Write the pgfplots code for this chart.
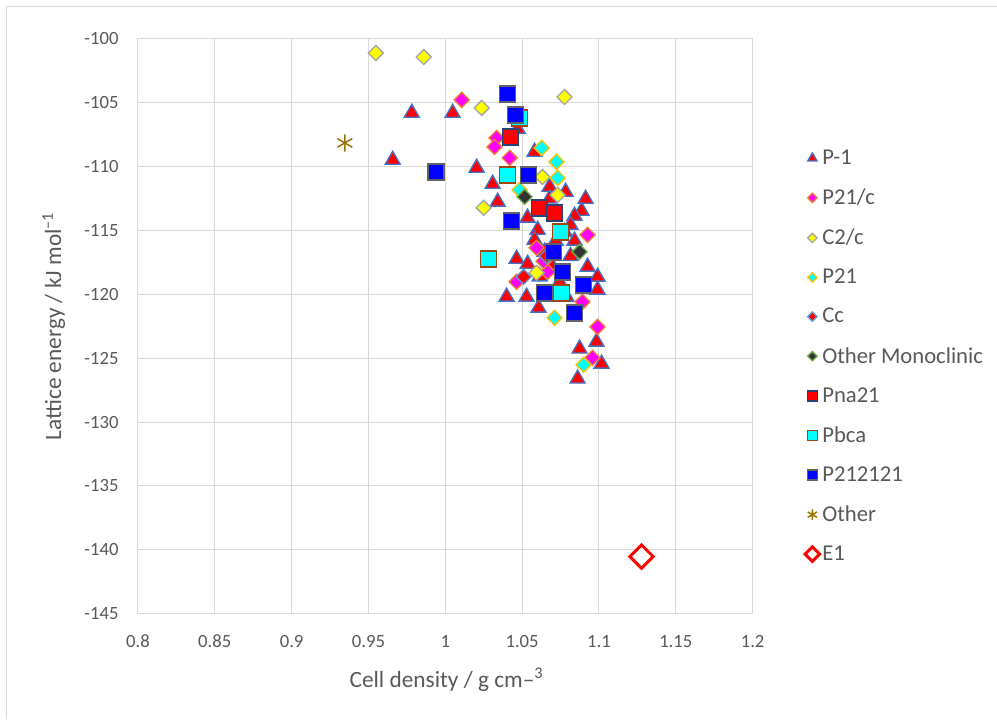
\documentclass[border=0pt]{standalone}
\usepackage{pgfplots}
\pgfplotsset{compat=1.18}
\usepackage{fontspec}
\setmainfont{Carlito}
\definecolor{txt}{HTML}{595959}
\definecolor{gridc}{HTML}{D9D9D9}
\definecolor{bP1}{HTML}{4472C4}
\definecolor{bP21c}{HTML}{ED7D31}
\definecolor{bC2c}{HTML}{A5A5A5}
\definecolor{bP21}{HTML}{FFC000}
\definecolor{bCc}{HTML}{5B9BD5}
\definecolor{bOM}{HTML}{70AD47}
\definecolor{fOM}{HTML}{333333}
\definecolor{bPna}{HTML}{264478}
\definecolor{bPbca}{HTML}{9E480E}
\definecolor{bP2}{HTML}{636363}
\definecolor{cOther}{HTML}{997300}
\definecolor{fRed}{HTML}{FF0000}
\definecolor{fMag}{HTML}{FF00FF}
\definecolor{fYel}{HTML}{FFFF00}
\definecolor{fCyan}{HTML}{00FFFF}
\definecolor{fBlue}{HTML}{0000FF}
\begin{document}
\begin{tikzpicture}
\path (0,0) rectangle (747.75pt,539.25pt);
\draw[gridc, line width=0.75pt] (5.25pt,0pt) -- (5.25pt,534pt) -- (747.75pt,534pt);
\begin{axis}[
  at={(103.5pt,78.75pt)}, anchor=south west,
  scale only axis, width=461.25pt, height=431.25pt,
  xmin=0.8, xmax=1.2, ymin=-145, ymax=-100,
  clip=false,
  axis line style={gridc, line width=0.75pt},
  xmajorgrids, ymajorgrids,
  grid style={gridc, line width=0.75pt},
  major tick length=0pt,
  xtick={0.8,0.85,0.9,0.95,1,1.05,1.1,1.15,1.2},
  xticklabels={0.8,0.85,0.9,0.95,1,1.05,1.1,1.15,1.2},
  ytick={-145,-140,-135,-130,-125,-120,-115,-110,-105,-100},
  yticklabels={-145,-140,-135,-130,-125,-120,-115,-110,-105,-100},
  /pgf/number format/assume math mode=true,
  ticklabel style={font=\fontsize{14}{16}\selectfont, text=txt},
  yticklabel style={xshift=-11pt},
  xticklabel style={yshift=-12.5pt},
  xlabel={Cell density / g cm–\textsuperscript{3}},
  ylabel={Lattice energy / kJ mol\textsuperscript{–1}},
  every axis x label/.style={at={(rel axis cs:0.502,-0.115)}, anchor=center, font=\fontsize{17.5}{20}\selectfont, text=txt},
  every axis y label/.style={at={(rel axis cs:-0.137,0.5)}, rotate=90, anchor=center, font=\fontsize{17.5}{20}\selectfont, text=txt},
  legend style={at={(rel axis cs:1.085,0.812)}, anchor=north west, draw=none, fill=none,
    font=\fontsize{17}{20}\selectfont, text=txt, row sep=12.8pt, inner sep=0pt},
  legend cell align=left,
  legend image post style={/tikz/every mark/.append style={scale=0.62}},
]
% P-1
\addplot[only marks, mark=triangle*, mark size=6.5pt, mark options={draw=bP1, fill=fRed, line width=1pt}] coordinates {
(0.9782,-105.79) (1.0048,-105.79) (0.9658,-109.47) (1.0204,-110.09) (1.0308,-111.35)
(1.0341,-112.75) (1.0471,-107.04) (1.0581,-108.84) (1.0913,-112.52) (1.0887,-113.46)
(1.0783,-111.97) (1.0679,-111.58) (1.0841,-113.85) (1.0815,-114.56) (1.0464,-117.22)
(1.0399,-120.19) (1.0529,-120.19) (1.0607,-121.05) (1.0536,-117.61) (1.0601,-114.95)
(1.0581,-115.73) (1.0646,-116.67) (1.0698,-117.84) (1.0744,-119.02) (1.0789,-120.19)
(1.0926,-117.84) (1.0991,-118.62) (1.0991,-119.64) (1.0874,-124.25) (1.0984,-123.71)
(1.1017,-125.43) (1.0861,-126.60) (1.0718,-115.80) (1.0841,-115.80) (1.0777,-115.10)
(1.0614,-118.60) (1.0679,-112.50) (1.0815,-117.00) (1.0535,-114.00)
};
\addlegendentry{P-1}
% P21/c
\addplot[only marks, mark=square*, mark size=4pt, mark options={rotate=45, draw=bP21c, fill=fMag, line width=1pt}] coordinates {
(1.0107,-104.77) (1.0334,-107.75) (1.0321,-108.45) (1.0419,-109.31) (1.0926,-115.34)
(1.0594,-116.35) (1.0666,-118.23) (1.0464,-119.01) (1.0991,-122.54) (1.0958,-124.96)
(1.0893,-120.58) (1.0640,-117.40)
};
\addlegendentry{P21/c}
% C2/c
\addplot[only marks, mark=square*, mark size=4pt, mark options={rotate=45, draw=bC2c, fill=fYel, line width=1pt}] coordinates {
(0.9548,-101.10) (0.9860,-101.41) (1.0776,-104.54) (1.0237,-105.40) (1.0250,-113.22)
(1.0731,-112.21) (1.0594,-118.31) (1.0633,-110.80)
};
\addlegendentry{C2/c}
% P21
\addplot[only marks, mark=square*, mark size=4pt, mark options={rotate=45, draw=bP21, fill=fCyan, line width=1pt}] coordinates {
(1.0627,-108.53) (1.0724,-109.62) (1.0731,-110.88) (1.0484,-111.82) (1.0711,-121.83)
(1.0900,-125.51)
};
\addlegendentry{P21}
% Cc
\addplot[only marks, mark=square*, mark size=4pt, mark options={rotate=45, draw=bCc, fill=fRed, line width=1pt}] coordinates {
(1.0510,-118.62) (1.0660,-117.00)
};
\addlegendentry{Cc}
% Other Monoclinic
\addplot[only marks, mark=square*, mark size=4pt, mark options={rotate=45, draw=bOM, fill=fOM, line width=1pt}] coordinates {
(1.0516,-112.36) (1.0874,-116.67)
};
\addlegendentry{Other Monoclinic}
% Pna21
\addplot[only marks, mark=square*, mark size=6pt, mark options={draw=bPna, fill=fRed, line width=1.2pt}] coordinates {
(1.0425,-107.67) (1.0614,-113.22) (1.0711,-113.62)
};
\addlegendentry{Pna21}
% Pbca
\addplot[only marks, mark=square*, mark size=6pt, mark options={draw=bPbca, fill=fCyan, line width=1.2pt}] coordinates {
(1.0484,-106.18) (1.0406,-110.64) (1.0282,-117.21) (1.0750,-115.10) (1.0757,-119.87)
};
\addlegendentry{Pbca}
% P212121
\addplot[only marks, mark=square*, mark size=6pt, mark options={draw=bP2, fill=fBlue, line width=1.2pt}] coordinates {
(1.0406,-104.30) (1.0458,-105.95) (0.9938,-110.41) (1.0542,-110.64) (1.0432,-114.24)
(1.0705,-116.67) (1.0763,-118.23) (1.0900,-119.25) (1.0646,-119.87) (1.0841,-121.44)
};
\addlegendentry{P212121}
% Other
\addplot[only marks, mark=asterisk, mark size=6.5pt, mark options={draw=cOther, line width=1.1pt}] coordinates {
(0.9346,-108.14)
};
\addlegendentry{Other}
% E1
\addplot[only marks, mark=square*, mark size=6.2pt, mark options={rotate=45, draw=fRed, fill=white, line width=2.2pt}] coordinates {
(1.1277,-140.53)
};
\addlegendentry{E1}
\end{axis}
\end{tikzpicture}
\end{document}
